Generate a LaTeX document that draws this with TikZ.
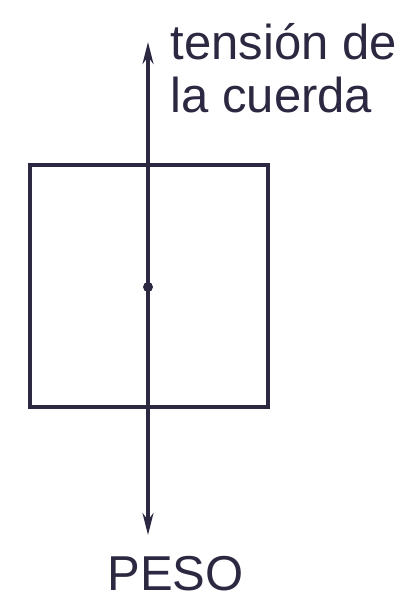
\documentclass[tikz,border=0pt]{standalone}
\usepackage{fontspec}
\setmainfont{Liberation Sans}
\usetikzlibrary{arrows.meta}
\definecolor{ink}{RGB}{45,40,65}
\begin{document}
\begin{tikzpicture}[x=1pt,y=-1pt,line width=3.2pt,
	lbl/.style={inner sep=0pt,text=ink,font=\fontsize{49}{53}\selectfont},
	vec/.style={-{Stealth[length=22pt,width=11pt]}}]
		\useasboundingbox (0,0) rectangle (417,604);
		\draw[ink] (30,165) rectangle (268,407);
		\fill[ink] (148,287) circle (5);
		\coordinate (c) at (148,287);
		\coordinate (up) at (148,42);
		\coordinate (down) at (148,535);
		\draw[ink,vec] (c) -- (up);
		\draw[ink,vec] (c) -- (down);
		\node[lbl,anchor=base west] (tens) at (169,60) {tensión de};
		\node[lbl,anchor=base west] (cuerda) at (169,113) {la cuerda};
		\node[lbl,anchor=base west] (peso) at (106,590) {PESO};
	\end{tikzpicture}
\end{document}
